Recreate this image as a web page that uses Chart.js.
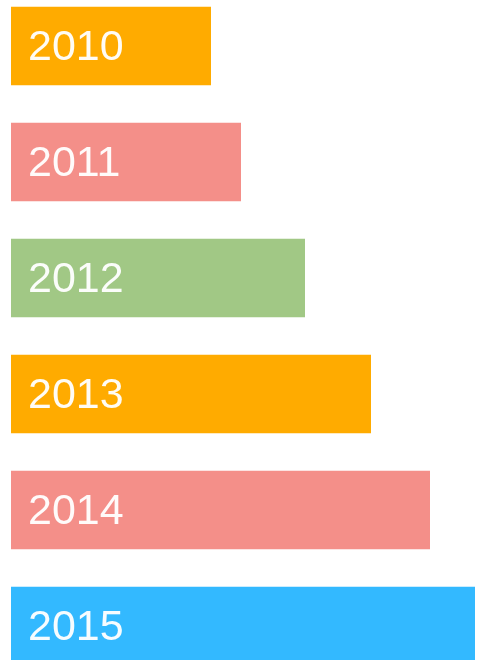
<!DOCTYPE html>
<html>
<head>
<meta charset="utf-8">
<script src="https://cdn.jsdelivr.net/npm/chart.js@4/dist/chart.umd.min.js"></script>
<style>
html,body{margin:0;padding:0;background:#fff;overflow:hidden;width:480px;height:660px;}
#wrap{position:absolute;left:0;top:-12px;width:480px;height:696px;}
</style>
</head>
<body>
<div id="wrap"><canvas id="c"></canvas></div>
<script>
const categories = ["2010", "2011", "2012", "2013", "2014", "2015"];
const values = [200, 230, 294, 360, 419, 464];
const barColors = ["#ffab00", "#f48f89", "#a1c885", "#ffab00", "#f48f89", "#33b9ff"];

const labelPlugin = {
  id: 'inbarLabels',
  afterDatasetsDraw(chart) {
    const ctx = chart.ctx;
    const meta = chart.getDatasetMeta(0);
    ctx.save();
    ctx.fillStyle = 'rgba(255,255,255,0.96)';
    ctx.font = '400 43px "Liberation Sans", Arial, sans-serif';
    ctx.textAlign = 'left';
    ctx.textBaseline = 'middle';
    meta.data.forEach((bar, i) => {
      ctx.fillText(categories[i], chart.chartArea.left + 17, bar.y + 2);
    });
    ctx.restore();
  }
};

new Chart(document.getElementById('c'), {
  type: 'bar',
  data: {
    labels: categories,
    datasets: [{
      data: values,
      backgroundColor: barColors,
      borderWidth: 0,
      categoryPercentage: 1,
      barPercentage: 0.677
    }]
  },
  options: {
    indexAxis: 'y',
    responsive: true,
    maintainAspectRatio: false,
    animation: false,
    layout: { padding: { left: 11, right: 0, top: 0, bottom: 0 } },
    plugins: { legend: { display: false }, tooltip: { enabled: false } },
    scales: {
      x: { display: false, min: 0, max: 469 },
      y: { display: false }
    }
  },
  plugins: [labelPlugin]
});
</script>
</body>
</html>
